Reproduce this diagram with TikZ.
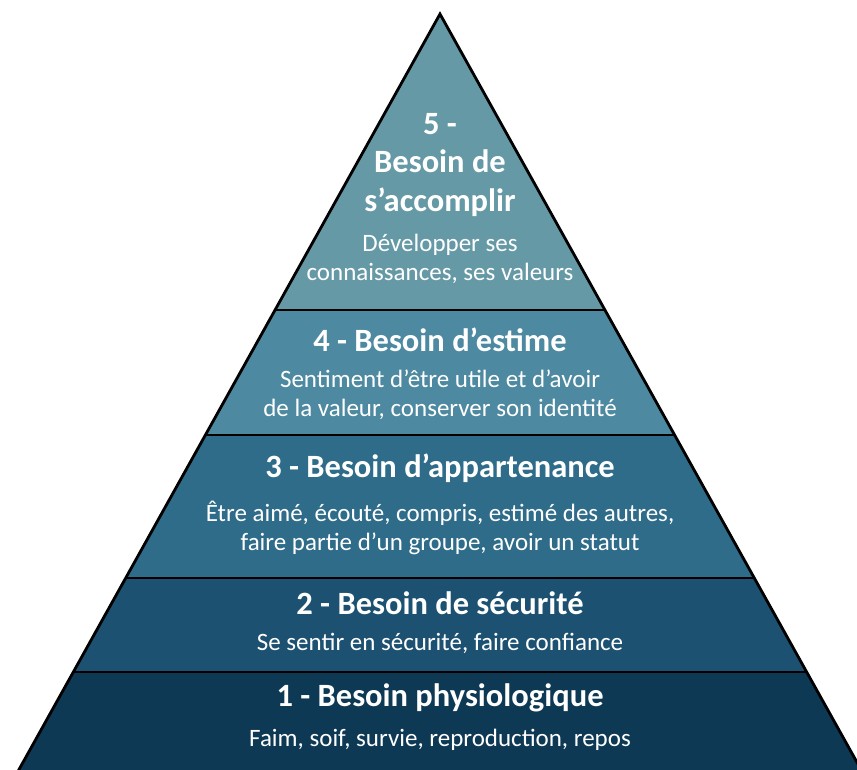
\documentclass[tikz,border=0pt]{standalone}
\usepackage{fontspec}
\setmainfont{Carlito}
\usetikzlibrary{calc}

\definecolor{lvlfive}{HTML}{6699A6}
\definecolor{lvlfour}{HTML}{4D89A0}
\definecolor{lvlthree}{HTML}{2E6C8A}
\definecolor{lvltwo}{HTML}{1D5171}
\definecolor{lvlone}{HTML}{0E3955}

\tikzset{
  needname/.style={text=white,inner sep=0pt,align=center,
    font=\fontsize{32.5}{38.5}\selectfont\bfseries},
  needtext/.style={text=white,inner sep=0pt,align=center,
    font=\fontsize{25}{28.5}\selectfont},
  outline/.style={black,line width=2.8pt,line join=miter},
  layerline/.style={black,line width=2.6pt}
}

\begin{document}
\begin{tikzpicture}[x=1pt,y=-1pt]
  \useasboundingbox (0,0) rectangle (857,769);
  \clip (0,0) rectangle (857,769);
  % corners of the pyramid (base lies below the picture)
  \coordinate (top)   at (440,14);
  \coordinate (left)  at (2,800);
  \coordinate (right) at (878,800);
  % the five layers, from the top
  \begin{scope}
    \clip (top) -- (left) -- (right) -- cycle;
    \fill[lvlfive]  (0,0)   rectangle (857,310);
    \fill[lvlfour]  (0,310) rectangle (857,435);
    \fill[lvlthree] (0,435) rectangle (857,578);
    \fill[lvltwo]   (0,578) rectangle (857,672);
    \fill[lvlone]   (0,672) rectangle (857,800);
    \draw[layerline] (0,310) -- (857,310);
    \draw[layerline] (0,435) -- (857,435);
    \draw[layerline] (0,578) -- (857,578);
    \draw[layerline] (0,672) -- (857,672);
  \end{scope}
  \draw[outline] (left) -- (top) -- (right);
  % level 5
  \node[needname] (n5) at (440,165) {5 -\\Besoin de\\s’accomplir};
  \node[needtext] (d5) at (440,259) {Développer ses\\connaissances, ses valeurs};
  % level 4
  \node[needname] (n4) at (440,340) {4 - Besoin d’estime};
  \node[needtext] (d4) at (440,395) {Sentiment d’être utile et d’avoir\\de la valeur, conserver son identité};
  % level 3
  \node[needname] (n3) at (440,468) {3 - Besoin d’appartenance};
  \node[needtext] (d3) at (440,528) {Être aimé, écouté, compris, estimé des autres,\\faire partie d’un groupe, avoir un statut};
  % level 2
  \node[needname] (n2) at (440,603) {2 - Besoin de sécurité};
  \node[needtext] (d2) at (440,643) {Se sentir en sécurité, faire confiance};
  % level 1
  \node[needname] (n1) at (440,698) {1 - Besoin physiologique};
  \node[needtext] (d1) at (440,740) {Faim, soif, survie, reproduction, repos};
\end{tikzpicture}
\end{document}
